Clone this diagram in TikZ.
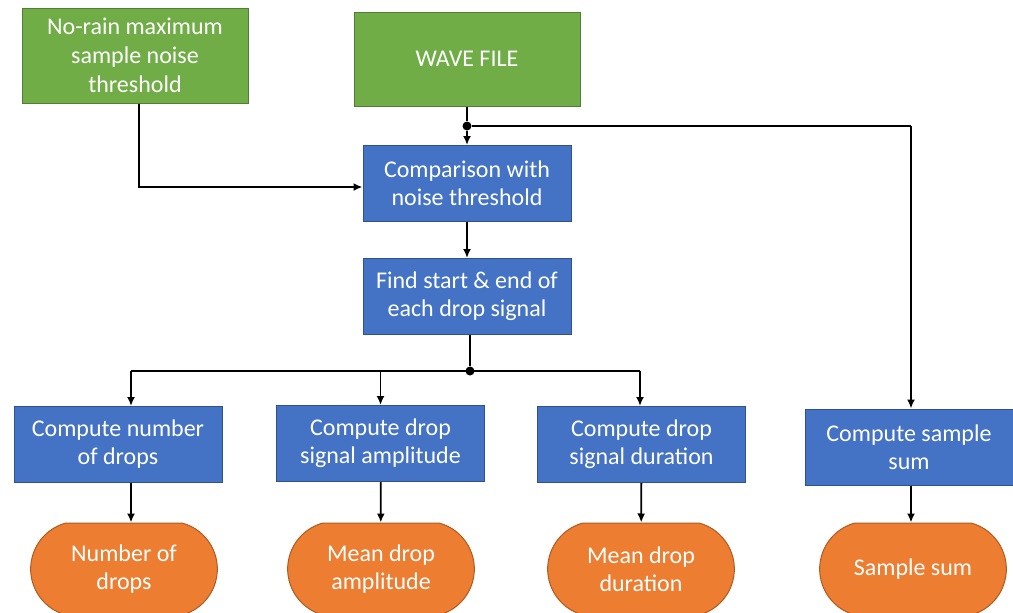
\documentclass[tikz,border=0pt]{standalone}
\usepackage{fontspec}
\setmainfont{Carlito}
\usetikzlibrary{shapes.misc,arrows.meta}

\definecolor{grnfill}{HTML}{70AD47}
\definecolor{grnline}{HTML}{507E32}
\definecolor{bluefill}{HTML}{4472C4}
\definecolor{blueline}{HTML}{2F528F}
\definecolor{orfill}{HTML}{ED7D31}
\definecolor{orline}{HTML}{AE5A21}

\tikzset{
  input/.style={rectangle, fill=grnfill, draw=grnline, line width=0.5pt,
    text=white, align=center, minimum width=113pt, minimum height=47pt,
    font=\fontsize{12}{14.5}\selectfont},
  process/.style={rectangle, fill=bluefill, draw=blueline, line width=0.5pt,
    text=white, align=center, minimum width=104pt, minimum height=38pt,
    font=\fontsize{12}{14}\selectfont},
  output/.style={rounded rectangle, rounded rectangle arc length=150,
    fill=orfill, draw=orline, line width=0.5pt, text=white, align=center,
    minimum width=100pt, minimum height=46pt,
    font=\fontsize{12}{14}\selectfont},
  wire/.style={line width=0.9pt},
  flow/.style={wire, -{Latex[length=4.5pt,width=4pt]}},
  junction/.style={circle, fill=black, inner sep=0pt, minimum size=4.5pt}
}

\begin{document}
\begin{tikzpicture}[x=0.5pt, y=-0.5pt]
\useasboundingbox (0,0) rectangle (1013,612);

% inputs
\node[input, minimum height=47.5pt] (noise) at (135,55.5) {No-rain maximum\\sample noise\\threshold};
\node[input] (wave) at (467,59) {WAVE FILE};

% processing chain
\node[process] (cmp) at (467,183.5) {Comparison with\\noise threshold};
\node[process] (find) at (467,296.5) {Find start \& end of\\each drop signal};

\node[process] (cnum) at (118,444.5) {Compute number\\of drops};
\node[process] (camp) at (380.5,443.5) {Compute drop\\signal amplitude};
\node[process] (cdur) at (641.5,444.5) {Compute drop\\signal duration};
\node[process] (csum) at (909,447) {Compute sample\\sum};

% results
\node[output] (num) at (124,569) {Number of\\drops};
\node[output] (amp) at (381,569) {Mean drop\\amplitude};
\node[output] (dur) at (641,569) {Mean drop\\duration};
\node[output] (sum) at (913,569) {Sample sum};

% split points
\node[junction] (wsplit) at (467,126) {};
\node[junction] (fsplit) at (470,371) {};
\coordinate (wright) at (911,126);
\coordinate (bleft) at (131,371);
\coordinate (bright) at (640,371);
\coordinate (nbend) at (139,187);

% wave file branch
\draw[wire] (wave) -- (wsplit);
\draw[flow] (wsplit) -- (cmp);
\draw[wire] (wsplit) -- (wright);
\draw[flow] (wright) -- (wright |- csum.north);
\draw[flow] (noise.south -| nbend) -- (nbend) -- (nbend -| cmp.west);
\draw[flow] (cmp) -- (find);

% drop signal bus
\draw[wire] (find.south -| fsplit) -- (fsplit);
\draw[wire] (bleft) -- (bright);
\draw[flow] (bleft) -- (bleft |- cnum.north);
\draw[flow] (camp |- fsplit) -- (camp);
\draw[flow] (bright) -- (bright |- cdur.north);

% to results
\draw[flow] (cnum.south -| bleft) -- (num.north -| bleft);
\draw[flow] (camp) -- (amp);
\draw[flow] (cdur) -- (dur);
\draw[flow] (csum.south -| wright) -- (sum.north -| wright);

\end{tikzpicture}
\end{document}
